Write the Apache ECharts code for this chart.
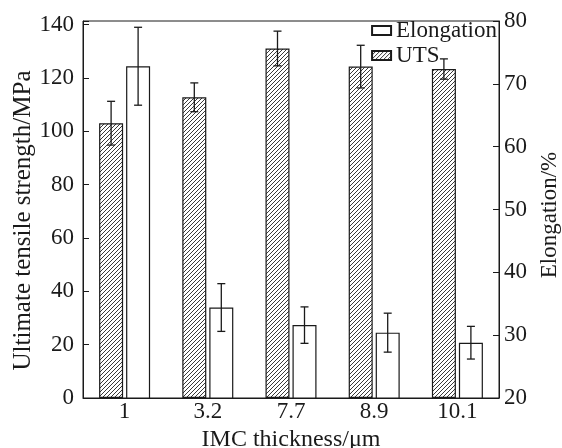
<!DOCTYPE html>
<html>
<head>
<meta charset="UTF-8">
<title>UTS and elongation vs IMC thickness</title>
<script src="https://cdn.jsdelivr.net/npm/echarts@6/dist/echarts.min.js"></script>
<style>
  body { margin: 0; background: #fff; }
</style>
</head>
<body>
<div id="main" style="width: 562px; height: 448px;"></div>
<script type="text/javascript">
var categories = ['1', '3.2', '7.7', '8.9', '10.1'];
var utsValues = [103, 112.7, 131, 124.2, 123.3];
var utsErrors = [8.2, 5.4, 6.5, 8, 3.8];
var elongValues = [72.8, 34.4, 31.6, 30.4, 28.8];
var elongErrors = [6.2, 3.8, 2.9, 3.1, 2.6];
var leftTicks = [0, 20, 40, 60, 80, 100, 120, 140];
var rightTicks = [20, 30, 40, 50, 60, 70, 80];

var FONT = 'Liberation Serif';
var INK = '#1a1a1a';
var BAR_W = 24;
var BAR_GAP = 3;

// hatch pattern "///" for the UTS bars
function makeHatch() {
  var p = 4;
  var c = document.createElement('canvas');
  c.width = p; c.height = p;
  var ctx = c.getContext('2d');
  ctx.fillStyle = '#fff';
  ctx.fillRect(0, 0, p, p);
  ctx.strokeStyle = '#222';
  ctx.lineWidth = 0.9;
  ctx.beginPath();
  ctx.moveTo(0, p); ctx.lineTo(p, 0);
  ctx.moveTo(-1, 1); ctx.lineTo(1, -1);
  ctx.moveTo(p - 1, p + 1); ctx.lineTo(p + 1, p - 1);
  ctx.stroke();
  return c;
}

function errorSeries(vals, errs, yIdx, dx) {
  var data = vals.map(function (v, i) { return [i, v, errs[i]]; });
  return {
    type: 'custom',
    yAxisIndex: yIdx,
    z: 5,
    silent: true,
    data: data,
    renderItem: function (params, api) {
      var i = api.value(0), v = api.value(1), e = api.value(2);
      var hi = api.coord([i, v + e]);
      var lo = api.coord([i, v - e]);
      var x = hi[0] + dx;
      var cap = 4;
      var st = { stroke: INK, lineWidth: 1.3 };
      return {
        type: 'group',
        children: [
          { type: 'line', shape: { x1: x, y1: hi[1], x2: x, y2: lo[1] }, style: st },
          { type: 'line', shape: { x1: x - cap, y1: hi[1], x2: x + cap, y2: hi[1] }, style: st },
          { type: 'line', shape: { x1: x - cap, y1: lo[1], x2: x + cap, y2: lo[1] }, style: st }
        ]
      };
    }
  };
}

var myChart = echarts.init(document.getElementById('main'));
var half = (BAR_W + BAR_GAP) / 2;

var option = {
  backgroundColor: '#fff',
  animation: false,
  textStyle: { fontFamily: FONT, color: INK },
  grid: {
    left: 83, right: 63, top: 21, bottom: 50,
    outerBoundsMode: 'none',
    containLabel: false,
    show: true, borderColor: INK, borderWidth: 1, backgroundColor: 'transparent'
  },
  legend: {
    orient: 'vertical',
    right: 65,
    top: 19,
    padding: 0,
    itemGap: 2,
    itemWidth: 19,
    itemHeight: 9,
    icon: 'rect',
    data: ['Elongation', 'UTS'],
    textStyle: { fontFamily: FONT, fontSize: 23, color: INK }
  },
  xAxis: {
    type: 'category',
    data: categories,
    name: 'IMC thickness/\u03bcm',
    nameLocation: 'middle',
    nameGap: 26,
    nameTextStyle: { fontFamily: FONT, fontSize: 24, color: INK },
    axisLine: { lineStyle: { color: INK, width: 1 } },
    axisTick: { show: false },
    axisLabel: { fontFamily: FONT, fontSize: 23, color: INK, margin: 2 },
    splitLine: { show: false }
  },
  yAxis: [
    {
      type: 'value',
      min: 0,
      max: 141.3,
      interval: 20,
      name: 'Ultimate tensile strength/MPa',
      nameLocation: 'middle',
      nameRotate: 90,
      nameGap: 47,
      nameMoveOverlap: false,
      nameTextStyle: { fontFamily: FONT, fontSize: 25, color: INK, padding: [0, 22, 0, 0] },
      axisLine: { show: true, lineStyle: { color: INK, width: 1 } },
      axisTick: { show: true, inside: true, length: 6, lineStyle: { color: INK } },
      axisLabel: {
        fontFamily: FONT, fontSize: 23, color: INK, margin: 9,
        formatter: function (v) { return leftTicks.indexOf(v) >= 0 ? String(v) : ''; }
      },
      splitLine: { show: false }
    },
    {
      type: 'value',
      min: rightTicks[0],
      max: rightTicks[rightTicks.length - 1],
      interval: 10,
      position: 'right',
      name: 'Elongation/%',
      nameLocation: 'middle',
      nameRotate: 90,
      nameGap: 39,
      nameTextStyle: { fontFamily: FONT, fontSize: 23, color: INK, padding: [0, 11, 0, 0] },
      axisLine: { show: true, lineStyle: { color: INK, width: 1 } },
      axisTick: { show: true, inside: true, length: 6, lineStyle: { color: INK } },
      axisLabel: { fontFamily: FONT, fontSize: 23, color: INK, margin: 5 },
      splitLine: { show: false }
    }
  ],
  series: [
    {
      name: 'UTS',
      type: 'bar',
      yAxisIndex: 0,
      barWidth: BAR_W,
      barGap: (BAR_GAP / BAR_W * 100) + '%',
      data: utsValues,
      itemStyle: { color: { image: makeHatch(), repeat: 'repeat' }, borderColor: INK, borderWidth: 1.2 }
    },
    {
      name: 'Elongation',
      type: 'bar',
      yAxisIndex: 1,
      barWidth: BAR_W,
      data: elongValues,
      itemStyle: { color: '#fff', borderColor: INK, borderWidth: 1.2 }
    },
    errorSeries(utsValues, utsErrors, 0, -half),
    errorSeries(elongValues, elongErrors, 1, half)
  ]
};
myChart.setOption(option);
</script>
</body>
</html>
